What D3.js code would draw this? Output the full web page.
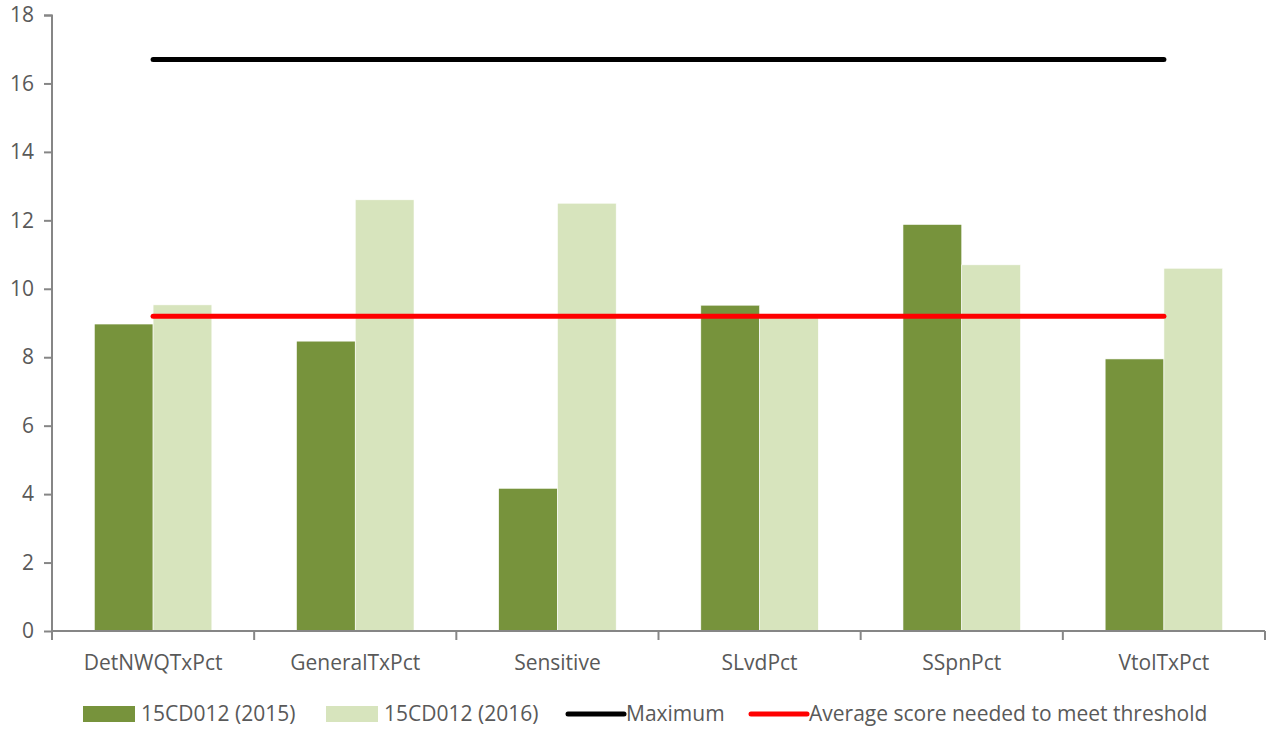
<!DOCTYPE html>
<html>
<head>
<meta charset="utf-8">
<script src="https://cdn.jsdelivr.net/npm/d3@7"></script>
<style>
  html, body { margin: 0; padding: 0; background: #fff; }
  svg { display: block; }
  text { font-family: "Open Sans", sans-serif; fill: #595959; }
</style>
</head>
<body>
<svg id="chart" width="1270" height="732"></svg>
<script>
// Score categories and series
const categories = ["DetNWQTxPct", "GeneralTxPct", "Sensitive", "SLvdPct", "SSpnPct", "VtolTxPct"];
const series2015 = [8.97, 8.47, 4.17, 9.52, 11.88, 7.95];
const series2016 = [9.53, 12.6, 12.5, 9.15, 10.7, 10.6];
const seriesNames = ["15CD012 (2015)", "15CD012 (2016)"];
const maximumScore = 16.7;
const thresholdScore = 9.2;
const yTicks = [0, 2, 4, 6, 8, 10, 12, 14, 16, 18];

const colors = { y2015: "#77933C", y2016: "#D7E4BD", max: "#000000", avg: "#FF0000", axis: "#868686" };

const svg = d3.select("#chart");
const margin = { left: 52, right: 5, top: 15, bottom: 101 };
const W = 1270, H = 732;
const plotW = W - margin.left - margin.right;
const plotH = H - margin.top - margin.bottom;

const g = svg.append("g").attr("transform", `translate(${margin.left},${margin.top})`);

const x = d3.scaleBand().domain(categories).range([0, plotW]).paddingInner(0).paddingOuter(0);
const x1 = d3.scaleBand().domain([0, 1]).range([0, x.bandwidth()]).paddingOuter(0.72).paddingInner(0);
const y = d3.scaleLinear().domain([0, 18]).range([plotH, 0]);

// Bars
const groups = g.selectAll("g.cat").data(categories).join("g")
  .attr("class", "cat")
  .attr("transform", d => `translate(${x(d)},0)`);

groups.append("rect")
  .attr("x", x1(0)).attr("width", x1.bandwidth())
  .attr("y", (d, i) => y(series2015[i]))
  .attr("height", (d, i) => y(0) - y(series2015[i]))
  .attr("fill", colors.y2015)
  .attr("stroke", "#fff").attr("stroke-width", 0.6);

groups.append("rect")
  .attr("x", x1(1)).attr("width", x1.bandwidth())
  .attr("y", (d, i) => y(series2016[i]))
  .attr("height", (d, i) => y(0) - y(series2016[i]))
  .attr("fill", colors.y2016)
  .attr("stroke", "#fff").attr("stroke-width", 0.6);

// Reference lines spanning the category centres
const xFirst = x(categories[0]) + x.bandwidth() / 2;
const xLast = x(categories[categories.length - 1]) + x.bandwidth() / 2;
[[maximumScore, colors.max], [thresholdScore, colors.avg]].forEach(([v, c]) => {
  g.append("line")
    .attr("x1", xFirst).attr("x2", xLast)
    .attr("y1", y(v)).attr("y2", y(v))
    .attr("stroke", c).attr("stroke-width", 5).attr("stroke-linecap", "round");
});

// Y axis
const yAxis = g.append("g").call(d3.axisLeft(y).tickValues(yTicks).tickSize(8).tickPadding(10).tickFormat(d3.format("d")));
yAxis.select(".domain").attr("stroke", colors.axis).attr("stroke-width", 2).attr("d", `M-8,0.5H0V${plotH}`);
yAxis.selectAll(".tick line").attr("stroke", colors.axis).attr("stroke-width", 2);
yAxis.selectAll(".tick text").style("font-size", "21px").attr("fill", "#595959");

// X axis with ticks at category boundaries
const xAxisG = g.append("g").attr("transform", `translate(0,${plotH})`);
xAxisG.append("line").attr("x1", 0).attr("x2", plotW).attr("stroke", colors.axis).attr("stroke-width", 2);
const boundaries = categories.map(c => x(c)).concat([plotW]);
xAxisG.selectAll("line.tk").data(boundaries).join("line")
  .attr("class", "tk")
  .attr("x1", d => d).attr("x2", d => d).attr("y1", 0).attr("y2", 9)
  .attr("stroke", colors.axis).attr("stroke-width", 2);
xAxisG.selectAll("text").data(categories).join("text")
  .attr("x", d => x(d) + x.bandwidth() / 2).attr("y", 39)
  .attr("text-anchor", "middle").style("font-size", "21px")
  .text(d => d);

// Legend
const legend = svg.append("g").attr("transform", "translate(0,714)");
const legendItems = [
  { type: "rect", color: colors.y2015, label: seriesNames[0], x: 83 },
  { type: "rect", color: colors.y2016, label: seriesNames[1], x: 326 },
  { type: "line", color: colors.max, label: "Maximum", x: 568 },
  { type: "line", color: colors.avg, label: "Average score needed to meet threshold", x: 751 }
];
legendItems.forEach(it => {
  if (it.type === "rect") {
    legend.append("rect").attr("x", it.x).attr("y", -8).attr("width", 52).attr("height", 16).attr("fill", it.color);
  } else {
    legend.append("line").attr("x1", it.x).attr("x2", it.x + 56).attr("y1", 0).attr("y2", 0)
      .attr("stroke", it.color).attr("stroke-width", 5).attr("stroke-linecap", "round");
  }
  legend.append("text").attr("x", it.x + 58).attr("y", 0).attr("dy", "0.35em")
    .style("font-size", "21px").text(it.label);
});
</script>
</body>
</html>
